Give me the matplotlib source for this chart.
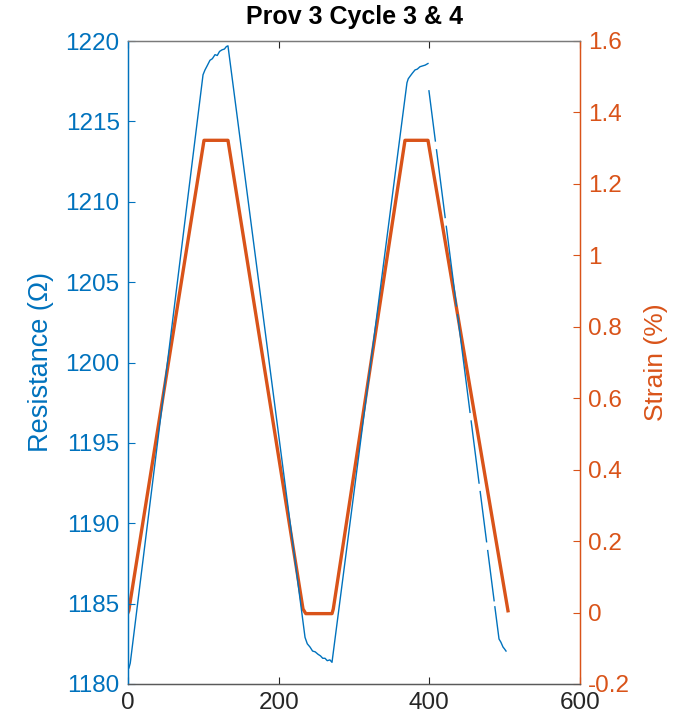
import numpy as np
import matplotlib
matplotlib.use("Agg")
import matplotlib.pyplot as plt

plt.rcParams['font.family'] = ['Liberation Sans', 'DejaVu Sans']

nan = np.nan
# Resistance (Ohm) vs time (s); NaN = gaps in logged data
res_t = [1.3, 3.0, 99.6, 102.2, 105.0, 108.8, 112.0, 115.5, 118.5, 121.5, 124.8, 128.0, 130.5, 132.7,
         235.0, 238.0, 241.6, 245.0, 248.5, 252.2, 255.5, 258.5, 261.5, 264.5, 268.0, 270.8,
         370.3, 372.0, 374.3, 377.5, 381.0, 384.0, 387.6, 391.0, 394.5, 398.2,
         nan,
         399.5, 408.0, nan, 409.5, 421.0, nan, 422.5, 436.0, nan, 437.5, 454.0, nan,
         455.5, 466.0, nan, 467.5, 476.0, nan, 477.5, 486.0, nan,
         487.0, 492.5, 495.0, 497.8, 499.5, 501.8]
res_v = [1181.0, 1181.3, 1217.9, 1218.2, 1218.45, 1218.8, 1218.9, 1219.15, 1219.1, 1219.35, 1219.45, 1219.5, 1219.65, 1219.7,
         1182.9, 1182.5, 1182.3, 1182.05, 1182.0, 1181.85, 1181.75, 1181.6, 1181.6, 1181.45, 1181.5, 1181.35,
         1217.4, 1217.65, 1217.8, 1218.0, 1218.2, 1218.25, 1218.4, 1218.45, 1218.5, 1218.6,
         nan,
         1216.9, 1213.78, nan, 1213.23, 1209.02, nan, 1208.47, 1203.52, nan, 1202.97, 1196.9, nan,
         1196.36, 1192.5, nan, 1191.97, 1188.85, nan, 1188.3, 1185.18, nan,
         1184.8, 1182.8, 1182.6, 1182.3, 1182.2, 1182.05]

# Strain (%) vs time (s)
str_t = [0.0, 1.0, 100.9, 132.7, 232.3, 236.0, 270.8, 272.5, 367.7, 398.2, 504.4]
str_v = [0.0, 0.005, 1.322, 1.322, 0.01, -0.003, -0.003, 0.01, 1.322, 1.322, 0.005]

xticks = [0, 200, 400, 600]
lticks = [1180, 1185, 1190, 1195, 1200, 1205, 1210, 1215, 1220]
rticks = [-0.2, 0, 0.2, 0.4, 0.6, 0.8, 1, 1.2, 1.4, 1.6]
rlabels = ['-0.2', '0', '0.2', '0.4', '0.6', '0.8', '1', '1.2', '1.4', '1.6']

blue = '#0072BD'
orange = '#D95319'
gray = '#262626'

fig = plt.figure(figsize=(6.81, 7.27), dpi=100)
ax = fig.add_axes([128/681, 1-684/727, 452/681, 643/727])
ax2 = ax.twinx()

ax.plot(res_t, res_v, color=blue, lw=1.0, zorder=3)
ax2.plot(str_t, str_v, color=orange, lw=2.4, zorder=2)
ax.set_zorder(ax2.get_zorder() + 1)
ax.patch.set_visible(False)

ax.set_xlim(0, 600)
ax.set_ylim(1180, 1220)
ax2.set_ylim(-0.2, 1.6)
ax.set_xticks(xticks)
ax.set_xticklabels([str(v) for v in xticks])
ax.set_yticks(lticks)
ax.set_yticklabels([str(v) for v in lticks])
ax2.set_yticks(rticks)
ax2.set_yticklabels(rlabels)

fs = 17.5
ax.tick_params(axis='x', direction='in', length=5, width=0.8, colors=gray, labelsize=fs, top=True, pad=6)
ax.tick_params(axis='y', direction='in', length=5, width=0.8, color=blue, labelcolor=blue, labelsize=fs, right=False, pad=6)
ax2.tick_params(axis='y', direction='in', length=5, width=0.8, color=orange, labelcolor=orange, labelsize=fs, pad=6)
ax2.tick_params(axis='x', top=False, bottom=False)

for a in (ax, ax2):
    a.spines['top'].set_color('#7a7a7a')
    a.spines['bottom'].set_color('#5a5a5a')
    a.spines['left'].set_color(blue)
    a.spines['right'].set_color(orange)
    for s in a.spines.values():
        s.set_linewidth(0.9)

ax.set_ylabel('Resistance (\u03a9)', color=blue, fontsize=19.5, labelpad=8)
ax2.set_ylabel('Strain (%)', color=orange, fontsize=19, labelpad=10)
ax.set_title('Prov 3 Cycle 3 & 4', fontsize=18, fontweight='bold', pad=12)

fig.savefig('out.png', dpi=100)
